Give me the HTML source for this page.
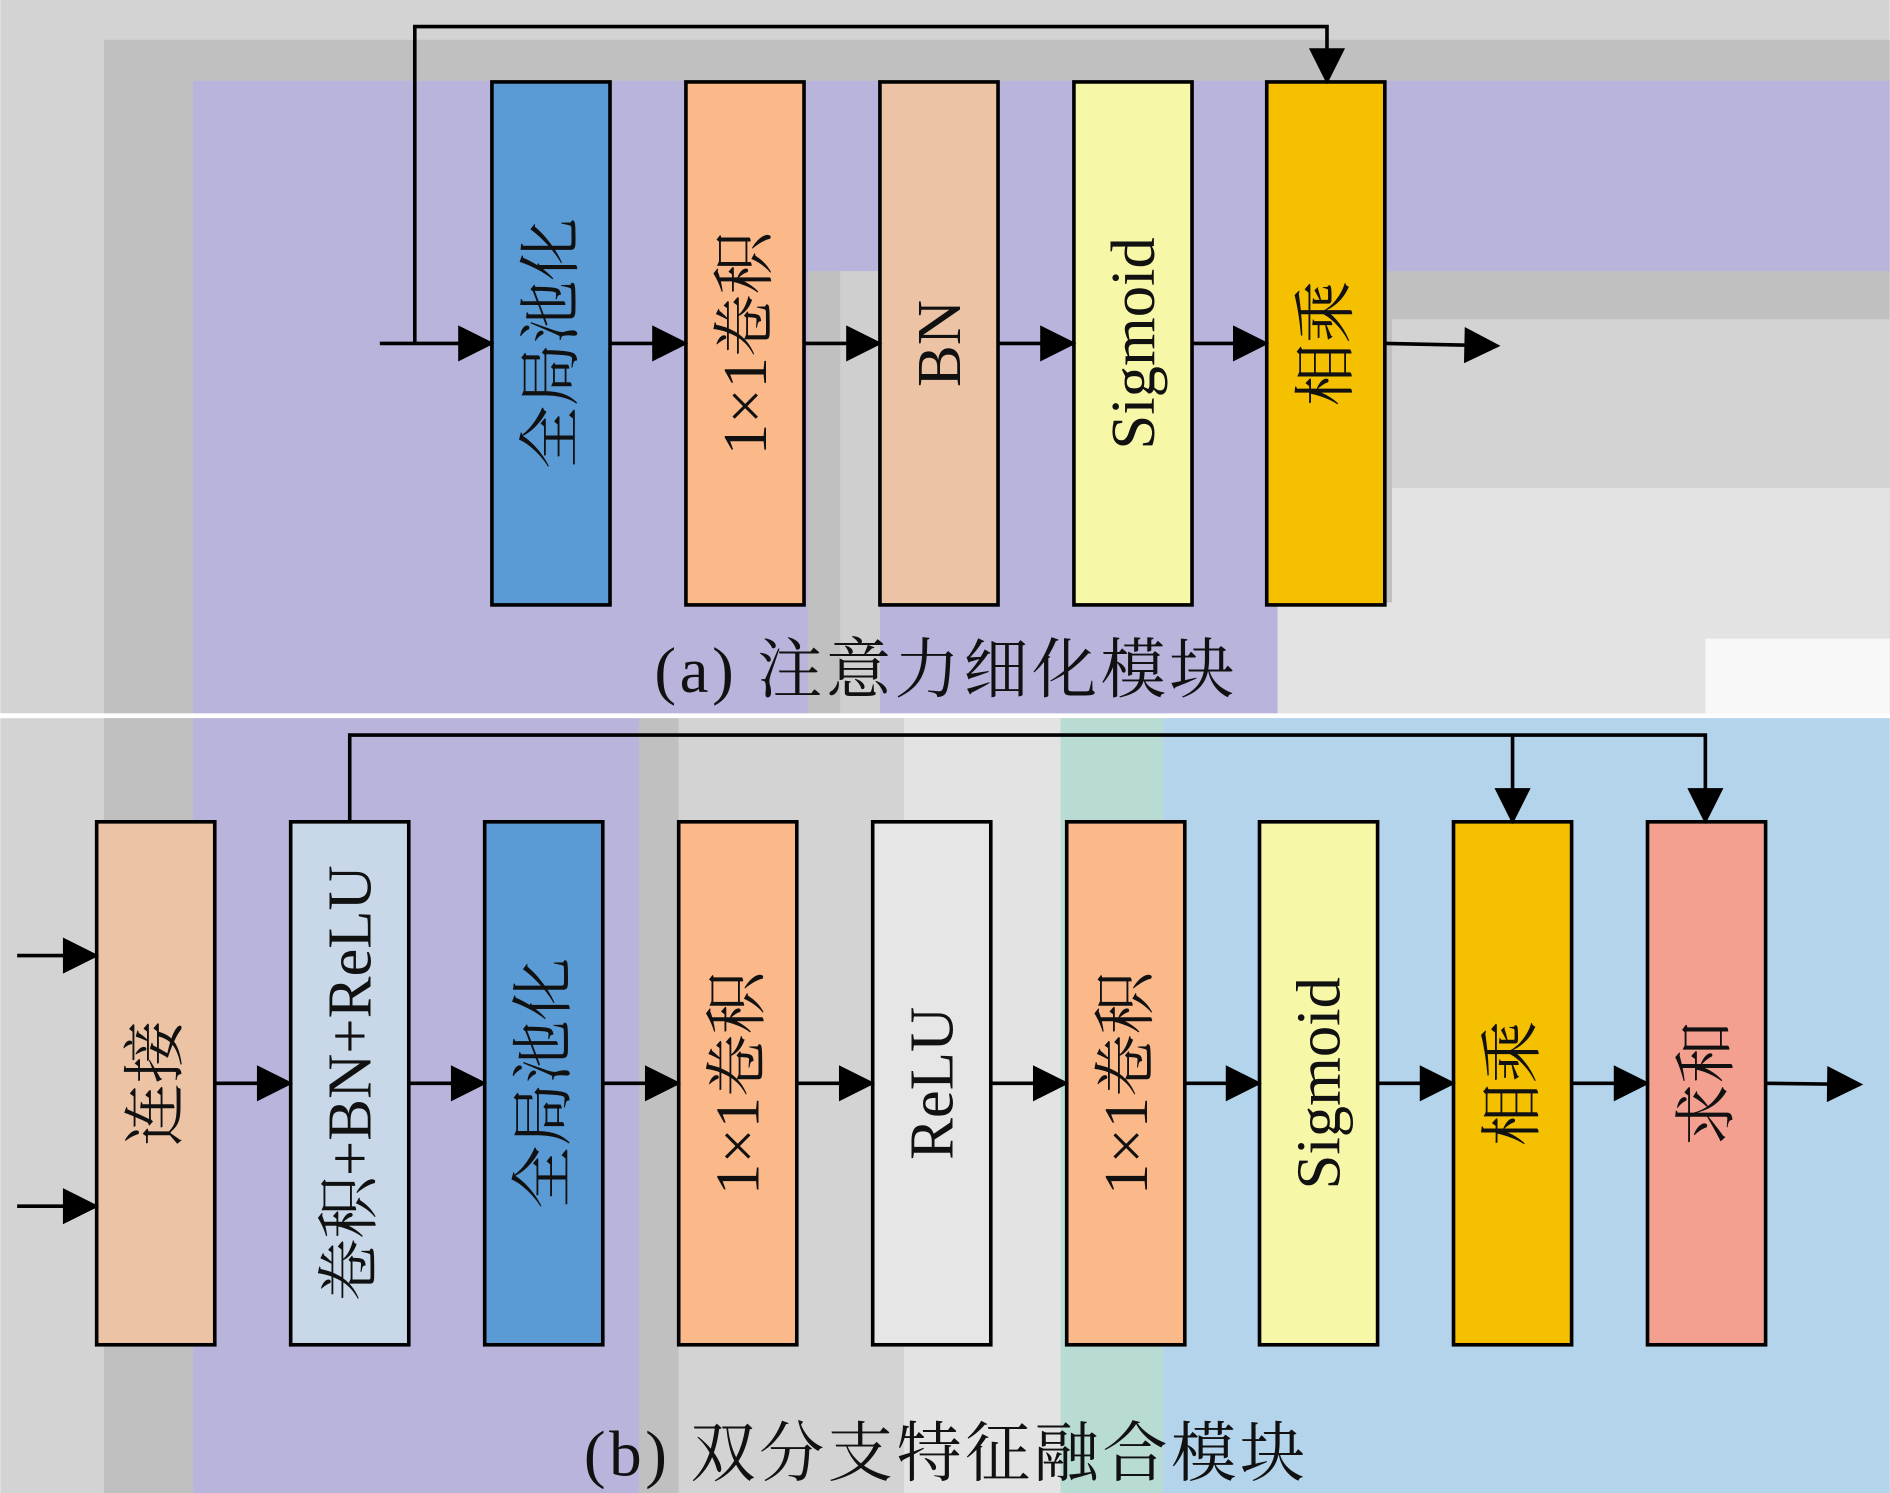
<!DOCTYPE html>
<html><head><meta charset="utf-8"><style>
html,body{margin:0;padding:0;background:#fff}
svg{display:block}
text{font-family:"Liberation Serif","Noto Serif CJK SC",serif;font-size:52px;fill:#111}
.cap{font-size:54px;letter-spacing:3px}
</style></head><body>
<svg width="1890" height="1493" viewBox="0 0 1568 1239" xmlns="http://www.w3.org/2000/svg">
<defs>
<marker id="a" viewBox="0 0 10 10" refX="9" refY="5" markerWidth="32" markerHeight="30" orient="auto" markerUnits="userSpaceOnUse"><path d="M0,0 L10,5 L0,10 z" fill="#000"/></marker>
</defs>
<rect x="0" y="0" width="1568" height="592" fill="#d3d3d3"/>
<rect x="86" y="33" width="1482" height="559" fill="#c0c0c0"/>
<rect x="160" y="67" width="1408" height="158" fill="#b8b4dc"/>
<rect x="160" y="225" width="510" height="367" fill="#b8b4dc"/>
<rect x="730" y="225" width="330" height="367" fill="#b8b4dc"/>
<rect x="697" y="225" width="33" height="367" fill="#cfcfcf"/>
<rect x="1155" y="265" width="413" height="140" fill="#d3d3d3"/>
<rect x="1155" y="405" width="413" height="187" fill="#e3e3e3"/>
<rect x="1060" y="500" width="95" height="92" fill="#e3e3e3"/>
<rect x="1415" y="530" width="153" height="62" fill="#f8f8f8"/>
<rect x="0" y="592" width="1568" height="4" fill="#fff"/>
<rect x="0" y="596" width="1568" height="643" fill="#d3d3d3"/>
<rect x="86" y="596" width="74" height="643" fill="#c0c0c0"/>
<rect x="160" y="596" width="370" height="643" fill="#b8b4dc"/>
<rect x="530" y="596" width="33" height="643" fill="#c0c0c0"/>
<rect x="563" y="596" width="187" height="643" fill="#d3d3d3"/>
<rect x="750" y="596" width="130" height="643" fill="#e3e3e3"/>
<rect x="880" y="596" width="85" height="643" fill="#b8dcd4"/>
<rect x="965" y="596" width="603" height="643" fill="#b4d4ec"/>

<g stroke="#000" stroke-width="3">
<rect x="408" y="68" width="98" height="434" fill="#5b9bd5"/>
<rect x="569" y="68" width="98" height="434" fill="#fbb98a"/>
<rect x="730" y="68" width="98" height="434" fill="#edc3a5"/>
<rect x="891" y="68" width="98" height="434" fill="#f7f7a8"/>
<rect x="1051" y="68" width="98" height="434" fill="#f5c000"/>
<rect x="80" y="682" width="98" height="434" fill="#edc3a5"/>
<rect x="241" y="682" width="98" height="434" fill="#c8d8e8"/>
<rect x="402" y="682" width="98" height="434" fill="#5b9bd5"/>
<rect x="563" y="682" width="98" height="434" fill="#fbb98a"/>
<rect x="724" y="682" width="98" height="434" fill="#e6e6e6"/>
<rect x="885" y="682" width="98" height="434" fill="#fbb98a"/>
<rect x="1045" y="682" width="98" height="434" fill="#f7f7a8"/>
<rect x="1206" y="682" width="98" height="434" fill="#f5c000"/>
<rect x="1367" y="682" width="98" height="434" fill="#f4a090"/>
</g>
<g stroke="#000" stroke-width="3" fill="none" marker-end="url(#a)">
<line x1="315" y1="285" x2="407" y2="285"/>
<line x1="507" y1="285" x2="568" y2="285"/>
<line x1="668" y1="285" x2="729" y2="285"/>
<line x1="829" y1="285" x2="890" y2="285"/>
<line x1="990" y1="285" x2="1050" y2="285"/>
<line x1="1150" y1="285" x2="1242" y2="287"/>
<polyline points="344,285 344,22 1101,22 1101,67"/>
<line x1="14" y1="793" x2="79" y2="793"/>
<line x1="14" y1="1001" x2="79" y2="1001"/>
<line x1="179" y1="899" x2="240" y2="899"/>
<line x1="340" y1="899" x2="401" y2="899"/>
<line x1="501" y1="899" x2="562" y2="899"/>
<line x1="662" y1="899" x2="723" y2="899"/>
<line x1="823" y1="899" x2="884" y2="899"/>
<line x1="984" y1="899" x2="1044" y2="899"/>
<line x1="1144" y1="899" x2="1205" y2="899"/>
<line x1="1305" y1="899" x2="1366" y2="899"/>
<line x1="1466" y1="899" x2="1543" y2="900"/>
<polyline points="290,682 290,610 1415,610 1415,681"/>
<line x1="1255" y1="610" x2="1255" y2="681"/>
</g>
<g text-anchor="middle" dominant-baseline="central">
<text transform="translate(457,285) rotate(-90)">全局池化</text>
<text transform="translate(618,285) rotate(-90)">1×1卷积</text>
<text transform="translate(779,285) rotate(-90)">BN</text>
<text transform="translate(940,285) rotate(-90)">Sigmoid</text>
<text transform="translate(1100,285) rotate(-90)">相乘</text>
<text class="cap" x="785" y="557">(a) 注意力细化模块</text>
<text transform="translate(129,899) rotate(-90)">连接</text>
<text transform="translate(290,899) rotate(-90)">卷积+BN+ReLU</text>
<text transform="translate(451,899) rotate(-90)">全局池化</text>
<text transform="translate(612,899) rotate(-90)">1×1卷积</text>
<text transform="translate(773,899) rotate(-90)">ReLU</text>
<text transform="translate(934,899) rotate(-90)">1×1卷积</text>
<text transform="translate(1094,899) rotate(-90)">Sigmoid</text>
<text transform="translate(1255,899) rotate(-90)">相乘</text>
<text transform="translate(1416,899) rotate(-90)">求和</text>
<text class="cap" x="785" y="1207">(b) 双分支特征融合模块</text>
</g>
</svg>
</body></html>
